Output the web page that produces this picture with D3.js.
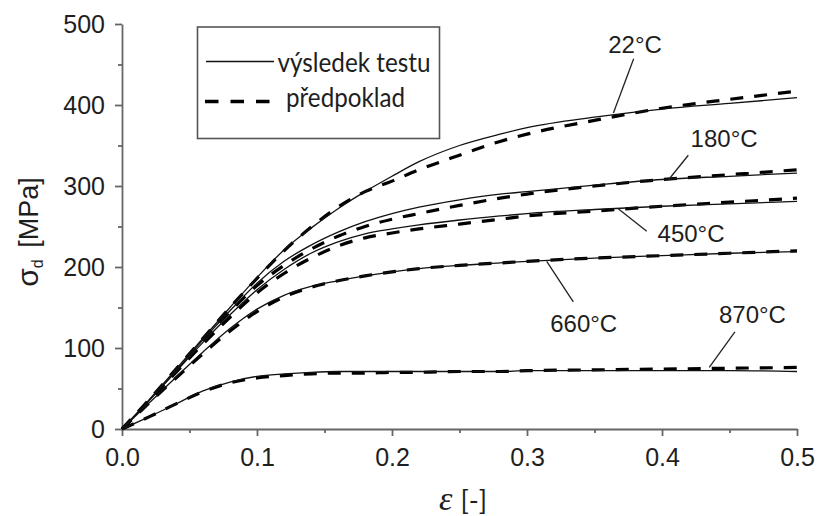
<!DOCTYPE html>
<html>
<head>
<meta charset="utf-8">
<script src="https://cdn.jsdelivr.net/npm/d3@7"></script>
<style>
  html, body { margin: 0; padding: 0; background: #fff; }
  svg { display: block; }
</style>
</head>
<body>
<svg id="chart" width="819" height="516"></svg>
<script>
// strain points shared by every curve
const strain = [0, 0.02, 0.04, 0.06, 0.08, 0.10, 0.12, 0.14, 0.16, 0.18, 0.20, 0.22, 0.25, 0.28, 0.30, 0.35, 0.40, 0.45, 0.50];

// výsledek testu (test result), MPa
const test22  = [0, 36, 74, 112, 150, 187, 221, 248, 272, 293, 312, 330, 350, 364, 372, 385, 395, 402, 409];
const test180 = [0, 35, 72, 110, 146, 180, 207, 227, 243, 256, 266, 274, 283, 290, 293, 301, 308, 312, 316];
const test450 = [0, 35, 71, 107, 141, 172, 197, 217, 231, 241, 247, 252, 258, 263, 266, 271, 275, 278, 281];
const test660 = [0, 32, 64, 95, 124, 148, 165, 176, 183, 189, 194, 198, 202, 205, 207, 211, 214, 217, 219];
const test870 = [0, 15, 31, 47, 58, 65, 68, 70, 71, 71, 71, 71, 71, 71, 72, 72, 72, 72, 71];

// předpoklad (prediction), MPa
const model22  = [0, 36, 74, 112, 150, 186, 220, 249, 274, 293, 306, 320, 338, 355, 364, 381, 396, 407, 417];
const model180 = [0, 35, 72, 110, 145, 177, 202, 222, 238, 250, 259, 266, 276, 285, 290, 300, 308, 314, 320];
const model450 = [0, 35, 70, 105, 138, 168, 192, 211, 226, 236, 242, 247, 253, 259, 263, 269, 275, 280, 285];
const model660 = [0, 32, 63, 93, 121, 145, 163, 175, 183, 189, 194, 198, 202, 205, 207, 211, 214, 217, 220];
const model870 = [0, 15, 31, 46, 57, 63, 66, 68, 69, 69, 70, 70, 71, 71, 72, 73, 74, 75, 76];

const temps = ['22°C', '180°C', '450°C', '660°C', '870°C'];
const testCurves = [test22, test180, test450, test660, test870];
const modelCurves = [model22, model180, model450, model660, model870];

const xTicks = [0, 0.1, 0.2, 0.3, 0.4, 0.5];
const yTicks = [0, 100, 200, 300, 400, 500];
const legendLabels = ['výsledek testu', 'předpoklad'];

const x = d3.scaleLinear().domain([0, 0.5]).range([122, 797]);
const y = d3.scaleLinear().domain([0, 500]).range([429, 24]);

const svg = d3.select('#chart');
const axisColor = '#666';
const sans = '"Liberation Sans", Arial, Helvetica, sans-serif';

// minor ticks first, then the labelled axes on top
svg.append('g')
  .attr('transform', `translate(0,${y(0)})`)
  .call(d3.axisBottom(x).tickValues([0.05, 0.15, 0.25, 0.35, 0.45]).tickSize(4).tickFormat(''))
  .call((g) => g.select('.domain').remove());
svg.append('g')
  .attr('transform', `translate(${x(0)},0)`)
  .call(d3.axisLeft(y).tickValues([50, 150, 250, 350, 450]).tickSize(4).tickFormat(''))
  .call((g) => g.select('.domain').remove());

svg.append('g')
  .attr('transform', `translate(0,${y(0)})`)
  .call(d3.axisBottom(x).tickValues(xTicks).tickFormat(d3.format('.1f'))
    .tickSizeInner(7).tickSizeOuter(0).tickPadding(12));
svg.append('g')
  .attr('transform', `translate(${x(0)},0)`)
  .call(d3.axisLeft(y).tickValues(yTicks).tickFormat(d3.format('d'))
    .tickSizeInner(7).tickSizeOuter(0).tickPadding(10));

svg.selectAll('.tick line, .domain')
  .attr('stroke', axisColor)
  .attr('stroke-width', 1.8);
svg.selectAll('.tick text')
  .attr('fill', '#1e1e1e')
  .style('font-family', sans)
  .style('font-size', '25px');

// curves
const line = d3.line()
  .x((d) => x(d[0]))
  .y((d) => y(d[1]))
  .curve(d3.curveMonotoneX);

const plot = svg.append('g').attr('fill', 'none');

modelCurves.forEach((vals) => {
  plot.append('path')
    .datum(strain.map((e, i) => [e, vals[i]]))
    .attr('d', line)
    .attr('stroke', '#000')
    .attr('stroke-width', 3.2)
    .attr('stroke-dasharray', '13 11');
});

testCurves.forEach((vals) => {
  plot.append('path')
    .datum(strain.map((e, i) => [e, vals[i]]))
    .attr('d', line)
    .attr('stroke', '#111')
    .attr('stroke-width', 1.3);
});

// temperature call-outs (data units): text spot, leader start, leader end on curve
const notes = [
  { text: [0.380, 464], from: [0.379, 457], to: [0.364, 390] },
  { text: [0.446, 348], from: [0.4195, 338], to: [0.405, 308] },
  { text: [0.4215, 231], from: [0.3887, 244], to: [0.3676, 272] },
  { text: [0.342, 120], from: [0.3343, 157], to: [0.3146, 207] },
  { text: [0.467, 131], from: [0.454, 120], to: [0.435, 76] },
];

notes.forEach((n, i) => {
  svg.append('line')
    .attr('x1', x(n.from[0])).attr('y1', y(n.from[1]))
    .attr('x2', x(n.to[0])).attr('y2', y(n.to[1]))
    .attr('stroke', '#222')
    .attr('stroke-width', 1.3);
  svg.append('text')
    .attr('x', x(n.text[0]))
    .attr('y', y(n.text[1]))
    .attr('text-anchor', 'middle')
    .attr('fill', '#1e1e1e')
    .style('font-family', sans)
    .style('font-size', '24px')
    .text(temps[i]);
});

// axis titles
const yTitle = svg.append('text')
  .attr('transform', 'translate(38,232) rotate(-90)')
  .attr('text-anchor', 'middle')
  .attr('fill', '#1e1e1e')
  .style('font-family', sans)
  .style('font-size', '27px');
yTitle.append('tspan').style('font-size', '30px').text('σ');
yTitle.append('tspan').attr('dy', 5).style('font-size', '16px').text('d');
yTitle.append('tspan').attr('dy', -5).attr('dx', 4).text(' [MPa]');

const xTitle = svg.append('text')
  .attr('x', 439)
  .attr('y', 510)
  .attr('fill', '#1e1e1e');
xTitle.append('tspan')
  .style('font-family', '"Liberation Serif", "DejaVu Serif", serif')
  .style('font-style', 'italic')
  .style('font-size', '34px')
  .text('ε');
xTitle.append('tspan')
  .attr('dx', 8)
  .style('font-family', 'Lato, "Open Sans", sans-serif')
  .style('font-size', '27px')
  .text('[-]');

// legend
const legend = svg.append('g');
legend.append('rect')
  .attr('x', 197.5).attr('y', 27)
  .attr('width', 242).attr('height', 111.5)
  .attr('fill', '#fff')
  .attr('stroke', '#555')
  .attr('stroke-width', 1.6);

legend.append('line')
  .attr('x1', 206).attr('x2', 274).attr('y1', 61.5).attr('y2', 61.5)
  .attr('stroke', '#111').attr('stroke-width', 1.3);
legend.append('line')
  .attr('x1', 205).attr('x2', 272).attr('y1', 101.5).attr('y2', 101.5)
  .attr('stroke', '#000').attr('stroke-width', 3.4)
  .attr('stroke-dasharray', '13.5 12');

legend.selectAll('text.lg')
  .data(legendLabels)
  .join('text')
  .attr('class', 'lg')
  .attr('x', (d, i) => (i === 0 ? 277.5 : 286))
  .attr('y', (d, i) => (i === 0 ? 71.7 : 107.3))
  .attr('textLength', (d, i) => (i === 0 ? 153 : 119))
  .attr('lengthAdjust', 'spacingAndGlyphs')
  .attr('fill', '#1e1e1e')
  .style('font-family', 'Lato, "Open Sans", sans-serif')
  .style('font-size', '26px')
  .text((d) => d);
</script>
</body>
</html>
